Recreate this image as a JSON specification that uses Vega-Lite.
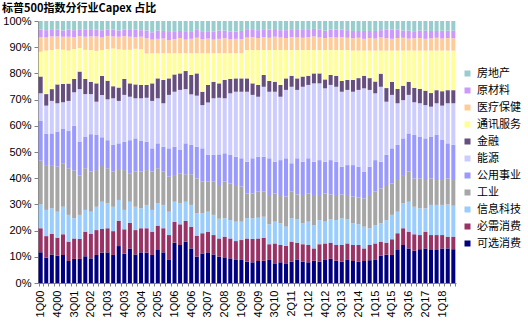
{
"$schema": "https://vega.github.io/schema/vega-lite/v6.json",
"width": 418, "height": 262,
"autosize": {"type": "none"},
"padding": {"left": 38, "top": 21, "right": 72, "bottom": 40},
"background": "white",
"title": {"text": "标普500指数分行业Capex 占比", "anchor": "start", "frame": "group", "dx": -36, "offset": 1, "fontSize": 11, "font": "Noto Sans CJK SC", "fontWeight": "bold", "color": "black"},
"datasets": {
"ranks": [
{"sector": "可选消费", "rank": 1}, {"sector": "必需消费", "rank": 2}, {"sector": "信息科技", "rank": 3}, {"sector": "工业", "rank": 4}, {"sector": "公用事业", "rank": 5}, {"sector": "能源", "rank": 6}, {"sector": "金融", "rank": 7}, {"sector": "通讯服务", "rank": 8}, {"sector": "医疗保健", "rank": 9}, {"sector": "原材料", "rank": 10}, {"sector": "房地产", "rank": 11}
],
"capex": [
{"q":"1Q00","可选消费":11.7,"必需消费":9.2,"信息科技":9.1,"工业":16.7,"公用事业":15.1,"能源":10.6,"金融":6.4,"通讯服务":9.5,"医疗保健":5.5,"原材料":3.0,"房地产":3.2},
{"q":"2Q00","可选消费":9.7,"必需消费":8.2,"信息科技":10.0,"工业":17.1,"公用事业":12.0,"能源":10.7,"金融":4.4,"通讯服务":16.6,"医疗保健":5.0,"原材料":2.8,"房地产":3.5},
{"q":"3Q00","可选消费":10.9,"必需消费":7.8,"信息科技":9.8,"工业":16.5,"公用事业":12.1,"能源":12.4,"金融":4.5,"通讯服务":14.9,"医疗保健":5.2,"原材料":2.5,"房地产":3.4},
{"q":"4Q00","可选消费":10.4,"必需消费":6.9,"信息科技":9.9,"工业":17.2,"公用事业":13.4,"能源":10.8,"金融":7.2,"通讯服务":13.5,"医疗保健":4.8,"原材料":2.6,"房地产":3.3},
{"q":"1Q01","可选消费":10.7,"必需消费":7.9,"信息科技":10.5,"工业":16.6,"公用事业":13.3,"能源":10.0,"金融":7.0,"通讯服务":13.0,"医疗保健":5.0,"原材料":2.4,"房地产":3.6},
{"q":"2Q01","可选消费":8.4,"必需消费":7.4,"信息科技":10.2,"工业":17.8,"公用事业":14.2,"能源":11.5,"金融":6.6,"通讯服务":12.6,"医疗保健":5.3,"原材料":2.8,"房地产":3.2},
{"q":"3Q01","可选消费":9.2,"必需消费":7.8,"信息科技":7.7,"工业":18.3,"公用事业":17.0,"能源":12.8,"金融":5.1,"通讯服务":11.4,"医疗保健":4.6,"原材料":2.6,"房地产":3.5},
{"q":"4Q01","可选消费":9.2,"必需消费":7.6,"信息科技":9.2,"工业":15.0,"公用事业":13.0,"能源":20.0,"金融":6.7,"通讯服务":9.0,"医疗保健":4.5,"原材料":2.4,"房地产":3.4},
{"q":"1Q02","可选消费":10.2,"必需消费":9.4,"信息科技":8.3,"工业":15.9,"公用事业":12.1,"能源":16.2,"金融":5.8,"通讯服务":11.1,"医疗保健":5.0,"原材料":2.8,"房地产":3.2},
{"q":"2Q02","可选消费":9.4,"必需消费":9.3,"信息科技":8.5,"工业":15.3,"公用事业":14.3,"能源":15.3,"金融":4.7,"通讯服务":12.1,"医疗保健":5.2,"原材料":2.5,"房地产":3.4},
{"q":"3Q02","可选消费":10.7,"必需消费":9.5,"信息科技":8.9,"工业":14.0,"公用事业":13.4,"能源":12.7,"金融":7.0,"通讯服务":12.4,"医疗保健":5.5,"原材料":2.6,"房地产":3.3},
{"q":"4Q02","可选消费":11.6,"必需消费":9.0,"信息科技":10.4,"工业":14.0,"公用事业":10.6,"能源":16.2,"金融":7.2,"通讯服务":9.9,"医疗保健":4.8,"原材料":2.8,"房地产":3.5},
{"q":"1Q03","可选消费":11.7,"必需消费":9.2,"信息科技":9.5,"工业":13.4,"公用事业":10.7,"能源":15.6,"金融":7.1,"通讯服务":12.1,"医疗保健":5.0,"原材料":2.5,"房地产":3.2},
{"q":"2Q03","可选消费":10.7,"必需消费":9.1,"信息科技":9.3,"工业":13.4,"公用事业":10.2,"能源":17.8,"金融":4.6,"通讯服务":14.4,"医疗保健":4.6,"原材料":2.6,"房地产":3.3},
{"q":"3Q03","可选消费":14.1,"必需消费":9.7,"信息科技":7.9,"工业":11.8,"公用事业":9.8,"能源":16.2,"金融":5.1,"通讯服务":14.6,"医疗保健":4.8,"原材料":2.4,"房地产":3.6},
{"q":"4Q03","可选消费":11.2,"必需消费":9.3,"信息科技":7.4,"工业":15.2,"公用事业":10.8,"能源":17.9,"金融":6.1,"通讯服务":11.1,"医疗保健":5.2,"原材料":2.5,"房地产":3.3},
{"q":"1Q04","可选消费":13.2,"必需消费":9.8,"信息科技":8.0,"工业":10.9,"公用事业":12.6,"能源":16.6,"金融":5.1,"通讯服务":12.8,"医疗保健":5.0,"原材料":2.6,"房地产":3.4},
{"q":"2Q04","可选消费":10.9,"必需消费":9.3,"信息科技":8.9,"工业":13.4,"公用事业":12.7,"能源":15.3,"金融":5.3,"通讯服务":13.6,"医疗保健":4.5,"原材料":2.8,"房地产":3.3},
{"q":"3Q04","可选消费":11.7,"必需消费":9.2,"信息科技":7.6,"工业":14.0,"公用事业":11.7,"能源":16.3,"金融":5.1,"通讯服务":13.6,"医疗保健":4.8,"原材料":2.5,"房地产":3.5},
{"q":"4Q04","可选消费":11.6,"必需消费":9.3,"信息科技":8.9,"工业":13.3,"公用事业":10.8,"能源":16.8,"金融":4.9,"通讯服务":12.0,"医疗保健":5.8,"原材料":3.0,"房地产":3.6},
{"q":"1Q05","可选消费":10.7,"必需消费":8.9,"信息科技":8.3,"工业":14.6,"公用事业":8.9,"能源":18.1,"金融":6.7,"通讯服务":11.5,"医疗保健":5.2,"原材料":2.8,"房地产":4.3},
{"q":"2Q05","可选消费":12.6,"必需消费":9.3,"信息科技":8.5,"工业":13.4,"公用事业":9.5,"能源":17.2,"金融":7.6,"通讯服务":9.6,"医疗保健":5.5,"原材料":3.2,"房地产":3.6},
{"q":"3Q05","可选消费":11.7,"必需消费":9.2,"信息科技":8.9,"工业":12.7,"公用事业":9.5,"能源":16.6,"金融":8.9,"通讯服务":10.2,"医疗保健":5.6,"原材料":2.9,"房地产":3.8},
{"q":"4Q05","可选消费":8.8,"必需消费":9.5,"信息科技":8.9,"工业":13.4,"公用事业":10.8,"能源":20.4,"金融":6.3,"通讯服务":9.6,"医疗保健":5.0,"原材料":3.1,"房地产":4.2},
{"q":"1Q06","可选消费":15.4,"必需消费":8.0,"信息科技":7.6,"工业":10.2,"公用事业":10.8,"能源":21.0,"金融":6.6,"通讯服务":8.1,"医疗保健":5.4,"原材料":3.0,"房地产":3.9},
{"q":"2Q06","可选消费":14.5,"必需消费":7.9,"信息科技":8.0,"工业":11.5,"公用事业":8.9,"能源":22.9,"金融":6.3,"通讯服务":7.7,"医疗保健":5.8,"原材料":2.7,"房地产":3.8},
{"q":"3Q06","可选消费":15.8,"必需消费":7.9,"信息科技":7.3,"工业":10.5,"公用事业":11.8,"能源":20.7,"金融":6.9,"通讯服务":6.8,"医疗保健":5.2,"原材料":3.2,"房地产":3.9},
{"q":"4Q06","可选消费":13.2,"必需消费":8.3,"信息科技":8.3,"工业":11.7,"公用事业":11.2,"能源":19.3,"金融":7.4,"通讯服务":8.3,"医疗保健":5.5,"原材料":2.9,"房地产":3.9},
{"q":"1Q07","可选消费":10.1,"必需消费":8.0,"信息科技":8.5,"工业":13.3,"公用事业":12.1,"能源":19.5,"金融":8.5,"通讯服务":7.7,"医疗保健":5.9,"原材料":3.0,"房地产":3.4},
{"q":"2Q07","可选消费":11.3,"必需消费":7.7,"信息科技":7.6,"工业":12.1,"公用事业":12.7,"能源":16.5,"金融":5.1,"通讯服务":14.7,"医疗保健":5.3,"原材料":3.1,"房地产":3.9},
{"q":"3Q07","可选消费":11.7,"必需消费":7.9,"信息科技":7.6,"工业":11.5,"公用事业":10.2,"能源":20.0,"金融":6.7,"通讯服务":12.1,"医疗保健":5.6,"原材料":2.8,"房地产":3.9},
{"q":"4Q07","可选消费":10.9,"必需消费":7.4,"信息科技":7.7,"工业":12.7,"公用事业":10.2,"能源":21.6,"金融":6.3,"通讯服务":10.9,"医疗保健":5.2,"原材料":3.0,"房地产":4.1},
{"q":"1Q08","可选消费":10.1,"必需消费":6.9,"信息科技":7.5,"工业":12.9,"公用事业":11.7,"能源":21.6,"金融":5.5,"通讯服务":11.5,"医疗保健":5.5,"原材料":3.2,"房地产":3.6},
{"q":"2Q08","可选消费":9.8,"必需消费":7.9,"信息科技":7.0,"工业":14.0,"公用事业":10.8,"能源":21.0,"金融":7.0,"通讯服务":10.2,"医疗保健":5.7,"原材料":2.9,"房地产":3.7},
{"q":"3Q08","可选消费":9.4,"必需消费":7.6,"信息科技":7.0,"工业":14.0,"公用事业":10.9,"能源":23.5,"金融":5.5,"通讯服务":9.8,"医疗保健":5.3,"原材料":3.0,"房地产":4.0},
{"q":"4Q08","可选消费":8.8,"必需消费":7.2,"信息科技":7.4,"工业":14.0,"公用事业":10.8,"能源":24.8,"金融":5.1,"通讯服务":9.6,"医疗保健":5.5,"原材料":2.8,"房地产":4.0},
{"q":"1Q09","可选消费":8.8,"必需消费":7.6,"信息科技":7.0,"工业":13.4,"公用事业":10.8,"能源":25.4,"金融":5.1,"通讯服务":9.6,"医疗保健":5.4,"原材料":3.1,"房地产":3.8},
{"q":"2Q09","可选消费":8.1,"必需消费":8.9,"信息科技":7.7,"工业":9.5,"公用事业":12.1,"能源":26.7,"金融":5.1,"通讯服务":10.8,"医疗保健":4.8,"原材料":2.9,"房地产":3.4},
{"q":"3Q09","可选消费":7.9,"必需消费":8.9,"信息科技":7.9,"工业":9.5,"公用事业":13.4,"能源":24.2,"金融":4.4,"通讯服务":12.7,"医疗保健":5.0,"原材料":2.7,"房地产":3.4},
{"q":"4Q09","可选消费":8.4,"必需消费":8.6,"信息科技":7.9,"工业":10.0,"公用事业":13.3,"能源":22.9,"金融":4.5,"通讯服务":13.3,"医疗保健":4.6,"原材料":3.0,"房地产":3.5},
{"q":"1Q10","可选消费":8.5,"必需消费":8.8,"信息科技":8.0,"工业":9.6,"公用事业":13.3,"能源":26.7,"金融":4.5,"通讯服务":9.5,"医疗保健":4.9,"原材料":2.8,"房地产":3.4},
{"q":"2Q10","可选消费":8.8,"必需消费":6.0,"信息科技":7.6,"工业":11.2,"公用事业":14.0,"能源":25.4,"金融":4.1,"通讯服务":11.8,"医疗保健":4.7,"原材料":3.1,"房地产":3.3},
{"q":"3Q10","可选消费":7.5,"必需消费":7.6,"信息科技":8.3,"工业":10.8,"公用事业":12.1,"能源":26.7,"金融":3.8,"通讯服务":12.1,"医疗保健":5.1,"原材料":2.9,"房地产":3.1},
{"q":"4Q10","可选消费":7.9,"必需消费":6.6,"信息科技":8.3,"工业":10.8,"公用事业":13.3,"能源":24.2,"金融":4.5,"通讯服务":13.3,"医疗保健":4.8,"原材料":2.8,"房地产":3.5},
{"q":"1Q11","可选消费":7.5,"必需消费":6.7,"信息科技":7.3,"工业":11.5,"公用事业":14.6,"能源":26.1,"金融":4.4,"通讯服务":10.8,"医疗保健":4.6,"原材料":3.0,"房地产":3.5},
{"q":"2Q11","可选消费":8.1,"必需消费":7.7,"信息科技":8.9,"工业":10.2,"公用事业":10.8,"能源":29.2,"金融":4.2,"通讯服务":9.8,"医疗保健":5.0,"原材料":2.7,"房地产":3.4},
{"q":"3Q11","可选消费":9.0,"必需消费":6.4,"信息科技":9.0,"工业":9.4,"公用事业":13.8,"能源":26.1,"金融":4.4,"通讯服务":10.8,"医疗保健":4.8,"原材料":2.9,"房地产":3.4},
{"q":"4Q11","可选消费":8.1,"必需消费":6.7,"信息科技":8.0,"工业":10.8,"公用事业":12.7,"能源":28.6,"金融":3.9,"通讯服务":10.1,"医疗保健":4.7,"原材料":3.0,"房地产":3.4},
{"q":"1Q12","可选消费":7.9,"必需消费":6.6,"信息科技":8.9,"工业":10.8,"公用事业":13.4,"能源":28.0,"金融":3.5,"通讯服务":9.8,"医疗保健":4.9,"原材料":2.8,"房地产":3.4},
{"q":"2Q12","可选消费":8.5,"必需消费":4.7,"信息科技":8.9,"工业":11.5,"公用事业":12.7,"能源":29.9,"金融":3.8,"通讯服务":8.9,"医疗保健":5.2,"原材料":2.9,"房地产":3.0},
{"q":"3Q12","可选消费":8.1,"必需消费":6.7,"信息科技":9.2,"工业":9.6,"公用事业":13.3,"能源":29.3,"金融":3.8,"通讯服务":8.9,"医疗保健":4.8,"原材料":3.1,"房地产":3.2},
{"q":"4Q12","可选消费":8.8,"必需消费":6.3,"信息科技":8.3,"工业":10.8,"公用事业":12.1,"能源":28.0,"金融":3.4,"通讯服务":11.2,"医疗保健":4.6,"原材料":2.8,"房地产":3.7},
{"q":"1Q13","可选消费":9.2,"必需消费":6.2,"信息科技":9.0,"工业":9.4,"公用事业":13.1,"能源":28.7,"金融":3.8,"通讯服务":9.5,"医疗保健":4.9,"原材料":2.9,"房地产":3.3},
{"q":"2Q13","可选消费":8.5,"必需消费":6.0,"信息科技":9.5,"工业":9.6,"公用事业":12.7,"能源":28.6,"金融":4.2,"通讯服务":9.8,"医疗保健":4.8,"原材料":3.0,"房地产":3.3},
{"q":"3Q13","可选消费":8.1,"必需消费":6.4,"信息科技":10.2,"工业":9.1,"公用事业":10.6,"能源":28.6,"金融":4.1,"通讯服务":11.8,"医疗保健":5.0,"原材料":2.8,"房地产":3.3},
{"q":"4Q13","可选消费":8.8,"必需消费":6.3,"信息科技":9.3,"工业":9.2,"公用事业":11.4,"能源":28.7,"金融":3.8,"通讯服务":11.4,"医疗保健":4.7,"原材料":2.9,"房地产":3.5},
{"q":"1Q14","可选消费":8.4,"必需消费":6.1,"信息科技":8.3,"工业":10.2,"公用事业":12.0,"能源":28.0,"金融":4.5,"通讯服务":11.2,"医疗保健":4.7,"原材料":2.8,"房地产":3.8},
{"q":"2Q14","可选消费":8.1,"必需消费":6.4,"信息科技":7.9,"工业":10.2,"公用事业":11.8,"能源":29.3,"金融":4.5,"通讯服务":10.5,"医疗保健":4.9,"原材料":2.6,"房地产":3.8},
{"q":"3Q14","可选消费":8.4,"必需消费":4.8,"信息科技":8.3,"工业":10.8,"公用事业":10.2,"能源":31.8,"金融":4.8,"通讯服务":9.6,"医疗保健":4.5,"原材料":3.0,"房地产":3.8},
{"q":"4Q14","可选消费":8.7,"必需消费":5.8,"信息科技":6.4,"工业":12.7,"公用事业":10.8,"能源":29.3,"金融":4.5,"通讯服务":10.5,"医疗保健":4.8,"原材料":2.7,"房地产":3.8},
{"q":"1Q15","可选消费":8.8,"必需消费":6.3,"信息科技":7.0,"工业":12.8,"公用事业":12.0,"能源":25.5,"金融":4.5,"通讯服务":11.8,"医疗保健":4.6,"原材料":2.9,"房地产":3.8},
{"q":"2Q15","可选消费":10.5,"必需消费":5.3,"信息科技":7.0,"工业":13.3,"公用事业":10.2,"能源":28.6,"金融":5.0,"通讯服务":8.8,"医疗保健":5.0,"原材料":2.8,"房地产":3.5},
{"q":"3Q15","可选消费":10.8,"必需消费":4.6,"信息科技":8.6,"工业":13.4,"公用事业":11.5,"能源":20.3,"金融":5.2,"通讯服务":14.3,"医疗保健":4.7,"原材料":3.4,"房地产":3.2},
{"q":"4Q15","可选消费":10.7,"必需消费":6.0,"信息科技":9.3,"工业":12.0,"公用事业":13.4,"能源":20.4,"金融":5.0,"通讯服务":11.9,"医疗保健":4.5,"原材料":3.6,"房地产":3.2},
{"q":"1Q16","可选消费":12.6,"必需消费":6.4,"信息科技":8.2,"工业":12.1,"公用事业":13.4,"能源":15.9,"金融":5.5,"通讯服务":14.6,"医疗保健":4.8,"原材料":3.2,"房地产":3.3},
{"q":"2Q16","可选消费":14.5,"必需消费":6.4,"信息科技":9.5,"工业":10.8,"公用事业":14.0,"能源":14.6,"金融":5.5,"通讯服务":13.4,"医疗保健":4.9,"原材料":2.8,"房地产":3.6},
{"q":"3Q16","可选消费":13.2,"必需消费":6.4,"信息科技":11.4,"工业":11.5,"公用事业":14.6,"能源":14.7,"金融":5.0,"通讯服务":11.9,"医疗保健":4.6,"原材料":3.0,"房地产":3.7},
{"q":"4Q16","可选消费":12.3,"必需消费":6.3,"信息科技":10.5,"工业":10.8,"公用事业":16.6,"能源":12.5,"金融":5.5,"通讯服务":14.2,"医疗保健":4.7,"原材料":2.7,"房地产":3.9},
{"q":"1Q17","可选消费":12.9,"必需消费":5.4,"信息科技":10.2,"工业":11.4,"公用事业":16.0,"能源":12.7,"金融":5.5,"通讯服务":14.6,"医疗保健":4.8,"原材料":2.9,"房地产":3.6},
{"q":"2Q17","可选消费":13.2,"必需消费":6.4,"信息科技":8.9,"工业":10.8,"公用事业":15.9,"能源":12.7,"金融":5.5,"通讯服务":15.3,"医疗保健":4.5,"原材料":3.1,"房地产":3.7},
{"q":"3Q17","可选消费":12.6,"必需消费":5.7,"信息科技":11.5,"工业":10.1,"公用事业":16.0,"能源":11.4,"金融":5.2,"通讯服务":16.2,"医疗保健":4.7,"原材料":2.8,"房地产":3.8},
{"q":"4Q17","可选消费":12.6,"必需消费":5.7,"信息科技":11.5,"工业":9.5,"公用事业":17.2,"能源":12.1,"金融":5.0,"通讯服务":15.1,"医疗保健":4.9,"原材料":2.6,"房地产":3.8},
{"q":"1Q18","可选消费":13.2,"必需消费":5.1,"信息科技":11.5,"工业":9.5,"公用事业":15.3,"能源":13.1,"金融":5.5,"通讯服务":15.5,"医疗保健":4.6,"原材料":3.0,"房地产":3.7},
{"q":"2Q18","可选消费":13.2,"必需消费":4.5,"信息科技":12.3,"工业":9.9,"公用事业":13.4,"能源":15.3,"金融":5.0,"通讯服务":15.1,"医疗保健":4.8,"原材料":2.8,"房地产":3.7},
{"q":"3Q18","可选消费":12.9,"必需消费":4.8,"信息科技":11.8,"工业":9.8,"公用事业":13.4,"能源":15.9,"金融":5.0,"通讯服务":15.1,"医疗保健":4.7,"原材料":2.9,"房地产":3.7}
]
},
"data": {"name": "capex"},
"transform": [
{"fold": ["可选消费","必需消费","信息科技","工业","公用事业","能源","金融","通讯服务","医疗保健","原材料","房地产"], "as": ["sector", "value"]},
{"lookup": "sector", "from": {"data": {"name": "ranks"}, "key": "sector", "fields": ["rank"]}}
],
"mark": {"type": "bar"},
"encoding": {
"x": {"field": "q", "type": "ordinal", "sort": null,
  "scale": {"paddingInner": 0.28, "paddingOuter": 0.12},
  "axis": {"title": null, "labelAngle": -90, "labelFontSize": 11, "labelFont": "Liberation Sans", "labelColor": "black", "labelPadding": 4,
    "labelExpr": "((toNumber(substring(datum.value,2,4))*4 + toNumber(substring(datum.value,0,1)) - 1) % 3 == 0) ? datum.value : ''",
    "labelOverlap": false, "tickBand": "extent", "tickSize": 3, "tickColor": "#808080", "domainColor": "#808080"}},
"y": {"field": "value", "type": "quantitative", "stack": "normalize",
  "scale": {"domain": [0, 1], "nice": false},
  "axis": {"title": null, "format": ".0%", "values": [0,0.1,0.2,0.3,0.4,0.5,0.6,0.7,0.8,0.9,1], "grid": false, "labelFontSize": 11, "labelFont": "Liberation Sans", "labelColor": "black", "tickSize": 4, "tickColor": "#808080", "domainColor": "#808080", "labelPadding": 3}},
"color": {"field": "sector", "type": "nominal",
  "scale": {"domain": ["可选消费","必需消费","信息科技","工业","公用事业","能源","金融","通讯服务","医疗保健","原材料","房地产"],
            "range": ["#000080","#993366","#99CCFF","#A6A6A6","#9999FF","#CCCCFF","#664E7E","#FFFF99","#FFCC99","#CC99FF","#99CCCC"]},
  "legend": {"title": null, "orient": "none", "legendX": 424, "legendY": 47,
    "values": ["房地产","原材料","医疗保健","通讯服务","金融","能源","公用事业","工业","信息科技","必需消费","可选消费"],
    "symbolType": "square", "symbolSize": 36, "symbolStrokeWidth": 0, "labelFontSize": 11, "labelFont": "Noto Sans CJK SC", "labelColor": "black", "rowPadding": 5, "labelOffset": 4, "padding": 0}},
"order": {"field": "rank", "type": "quantitative"}
},
"config": {"view": {"stroke": null}}
}
